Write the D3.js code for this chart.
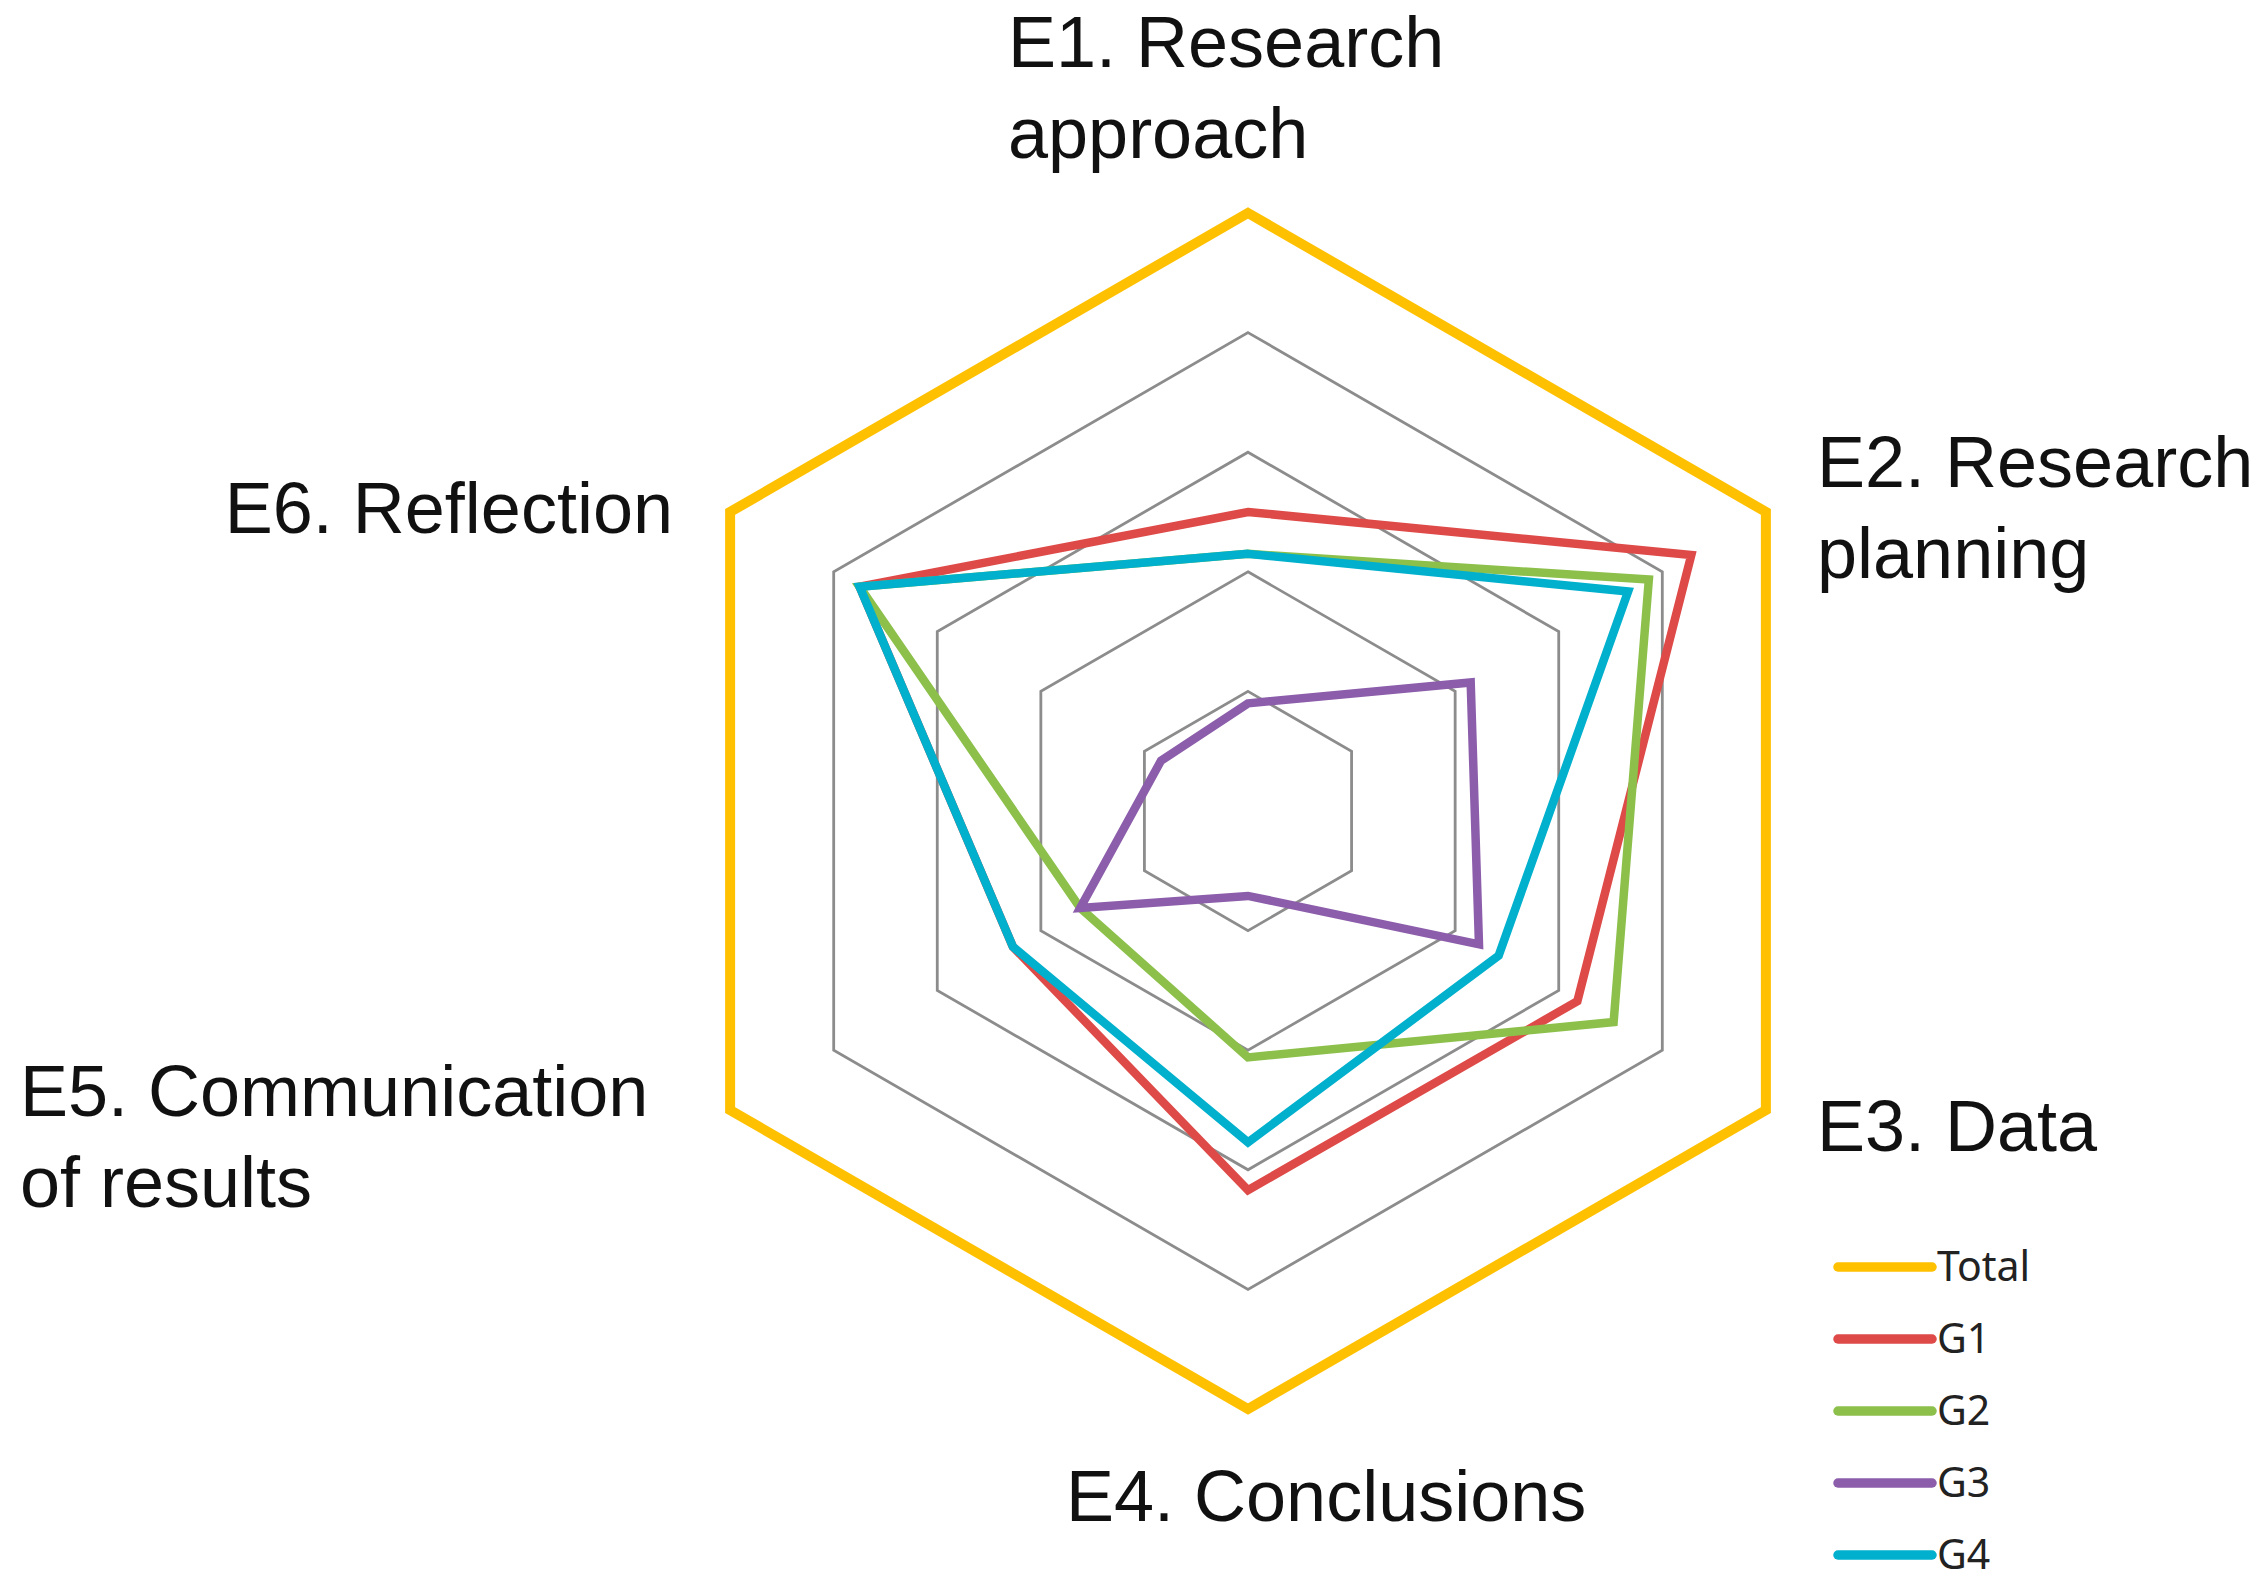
<!DOCTYPE html>
<html>
<head>
<meta charset="utf-8">
<script src="https://cdn.jsdelivr.net/npm/d3@7"></script>
<style>
  body { margin: 0; background: #fff; }
</style>
</head>
<body>
<script>
var axes = ['E1', 'E2', 'E3', 'E4', 'E5', 'E6'];
var axisLabels = [
  ['E1. Research', 'approach'],
  ['E2. Research', 'planning'],
  ['E3. Data'],
  ['E4. Conclusions'],
  ['E5. Communication', 'of results'],
  ['E6. Reflection']
];
var seriesNames = ['Total', 'G1', 'G2', 'G3', 'G4'];
var total = [5, 5, 5, 5, 5, 5];
var g1 = [2.5, 4.28, 3.18, 3.17, 2.27, 3.75];
var g2 = [2.15, 3.87, 3.53, 2.06, 1.62, 3.75];
var g3 = [0.9, 2.15, 2.23, 0.71, 1.62, 0.84];
var g4 = [2.15, 3.67, 2.42, 2.77, 2.27, 3.75];
var gridLevels = [1, 2, 3, 4, 5];

var series = [total, g1, g2, g3, g4];

var screen = {width: 2265, height: 1587};
var center = {x: 1248, y: 811};

var svg = d3.select('body').append('svg')
    .attr('width', screen.width)
    .attr('height', screen.height)
    .style('display', 'block');

svg.append('rect')
    .attr('width', screen.width)
    .attr('height', screen.height)
    .attr('fill', '#fff');

// scales
var rScale = d3.scaleLinear()
    .domain([0, 5])
    .range([0, 598]);

var angle = d3.scalePoint()
    .domain(d3.range(axes.length + 1))
    .range([0, 2 * Math.PI]);

var colors = d3.scaleOrdinal()
    .domain(seriesNames)
    .range(['#FFC000', '#DE4A48', '#8CC04B', '#8B5DAA', '#00B0CC']);

var widths = d3.scaleOrdinal()
    .domain(seriesNames)
    .range([10, 8.5, 8.5, 8.5, 8.5]);

var radar = d3.lineRadial()
    .angle(function(d, i) { return angle(i); })
    .radius(function(d) { return rScale(d); })
    .curve(d3.curveLinearClosed);

var chart = svg.append('g')
    .attr('transform', 'translate(' + center.x + ',' + center.y + ')');

// grid rings
chart.append('g')
    .attr('class', 'grid')
    .selectAll('path')
    .data(gridLevels)
    .enter()
    .append('path')
    .attr('d', function(level) {
      return radar(axes.map(function() { return level; }));
    })
    .attr('fill', 'none')
    .attr('stroke', '#8c8c8c')
    .attr('stroke-width', 2.8);

// series lines
chart.append('g')
    .attr('class', 'series')
    .selectAll('path')
    .data(series)
    .enter()
    .append('path')
    .attr('d', function(d) { return radar(d); })
    .attr('fill', 'none')
    .attr('stroke', function(d, i) { return colors(seriesNames[i]); })
    .attr('stroke-width', function(d, i) { return widths(seriesNames[i]); })
    .attr('stroke-linejoin', 'miter');

// axis labels
var labelLayout = [
  {x: 1008, y: 67, anchor: 'start'},
  {x: 1817, y: 487, anchor: 'start'},
  {x: 1817, y: 1151, anchor: 'start'},
  {x: 1066, y: 1521, anchor: 'start'},
  {x: 20, y: 1116, anchor: 'start'},
  {x: 673, y: 533, anchor: 'end'}
];

svg.append('g')
    .attr('class', 'labels')
    .selectAll('text')
    .data(axisLabels)
    .enter()
    .append('text')
    .attr('x', function(d, i) { return labelLayout[i].x; })
    .attr('y', function(d, i) { return labelLayout[i].y; })
    .attr('text-anchor', function(d, i) { return labelLayout[i].anchor; })
    .attr('font-family', '"Liberation Sans", Arial, sans-serif')
    .attr('font-size', 72)
    .attr('fill', '#111')
    .each(function(d, i) {
      var t = d3.select(this);
      d.forEach(function(line, j) {
        t.append('tspan')
          .attr('x', labelLayout[i].x)
          .attr('dy', j === 0 ? 0 : 91)
          .text(line);
      });
    });

// legend
var legend = svg.append('g')
    .attr('class', 'legend')
    .attr('transform', 'translate(1838,1267)');

var legendRows = legend.selectAll('g')
    .data(seriesNames)
    .enter()
    .append('g')
    .attr('transform', function(d, i) { return 'translate(0,' + (i * 72) + ')'; });

legendRows.append('line')
    .attr('x1', 0)
    .attr('x2', 94)
    .attr('y1', 0)
    .attr('y2', 0)
    .attr('stroke', function(d) { return colors(d); })
    .attr('stroke-width', 9.5)
    .attr('stroke-linecap', 'round');

legendRows.append('text')
    .attr('x', 99)
    .attr('y', 14)
    .attr('font-family', '"Noto Sans", "Open Sans", sans-serif')
    .attr('font-size', 41)
    .attr('fill', '#222')
    .text(function(d) { return d; });
</script>
</body>
</html>
